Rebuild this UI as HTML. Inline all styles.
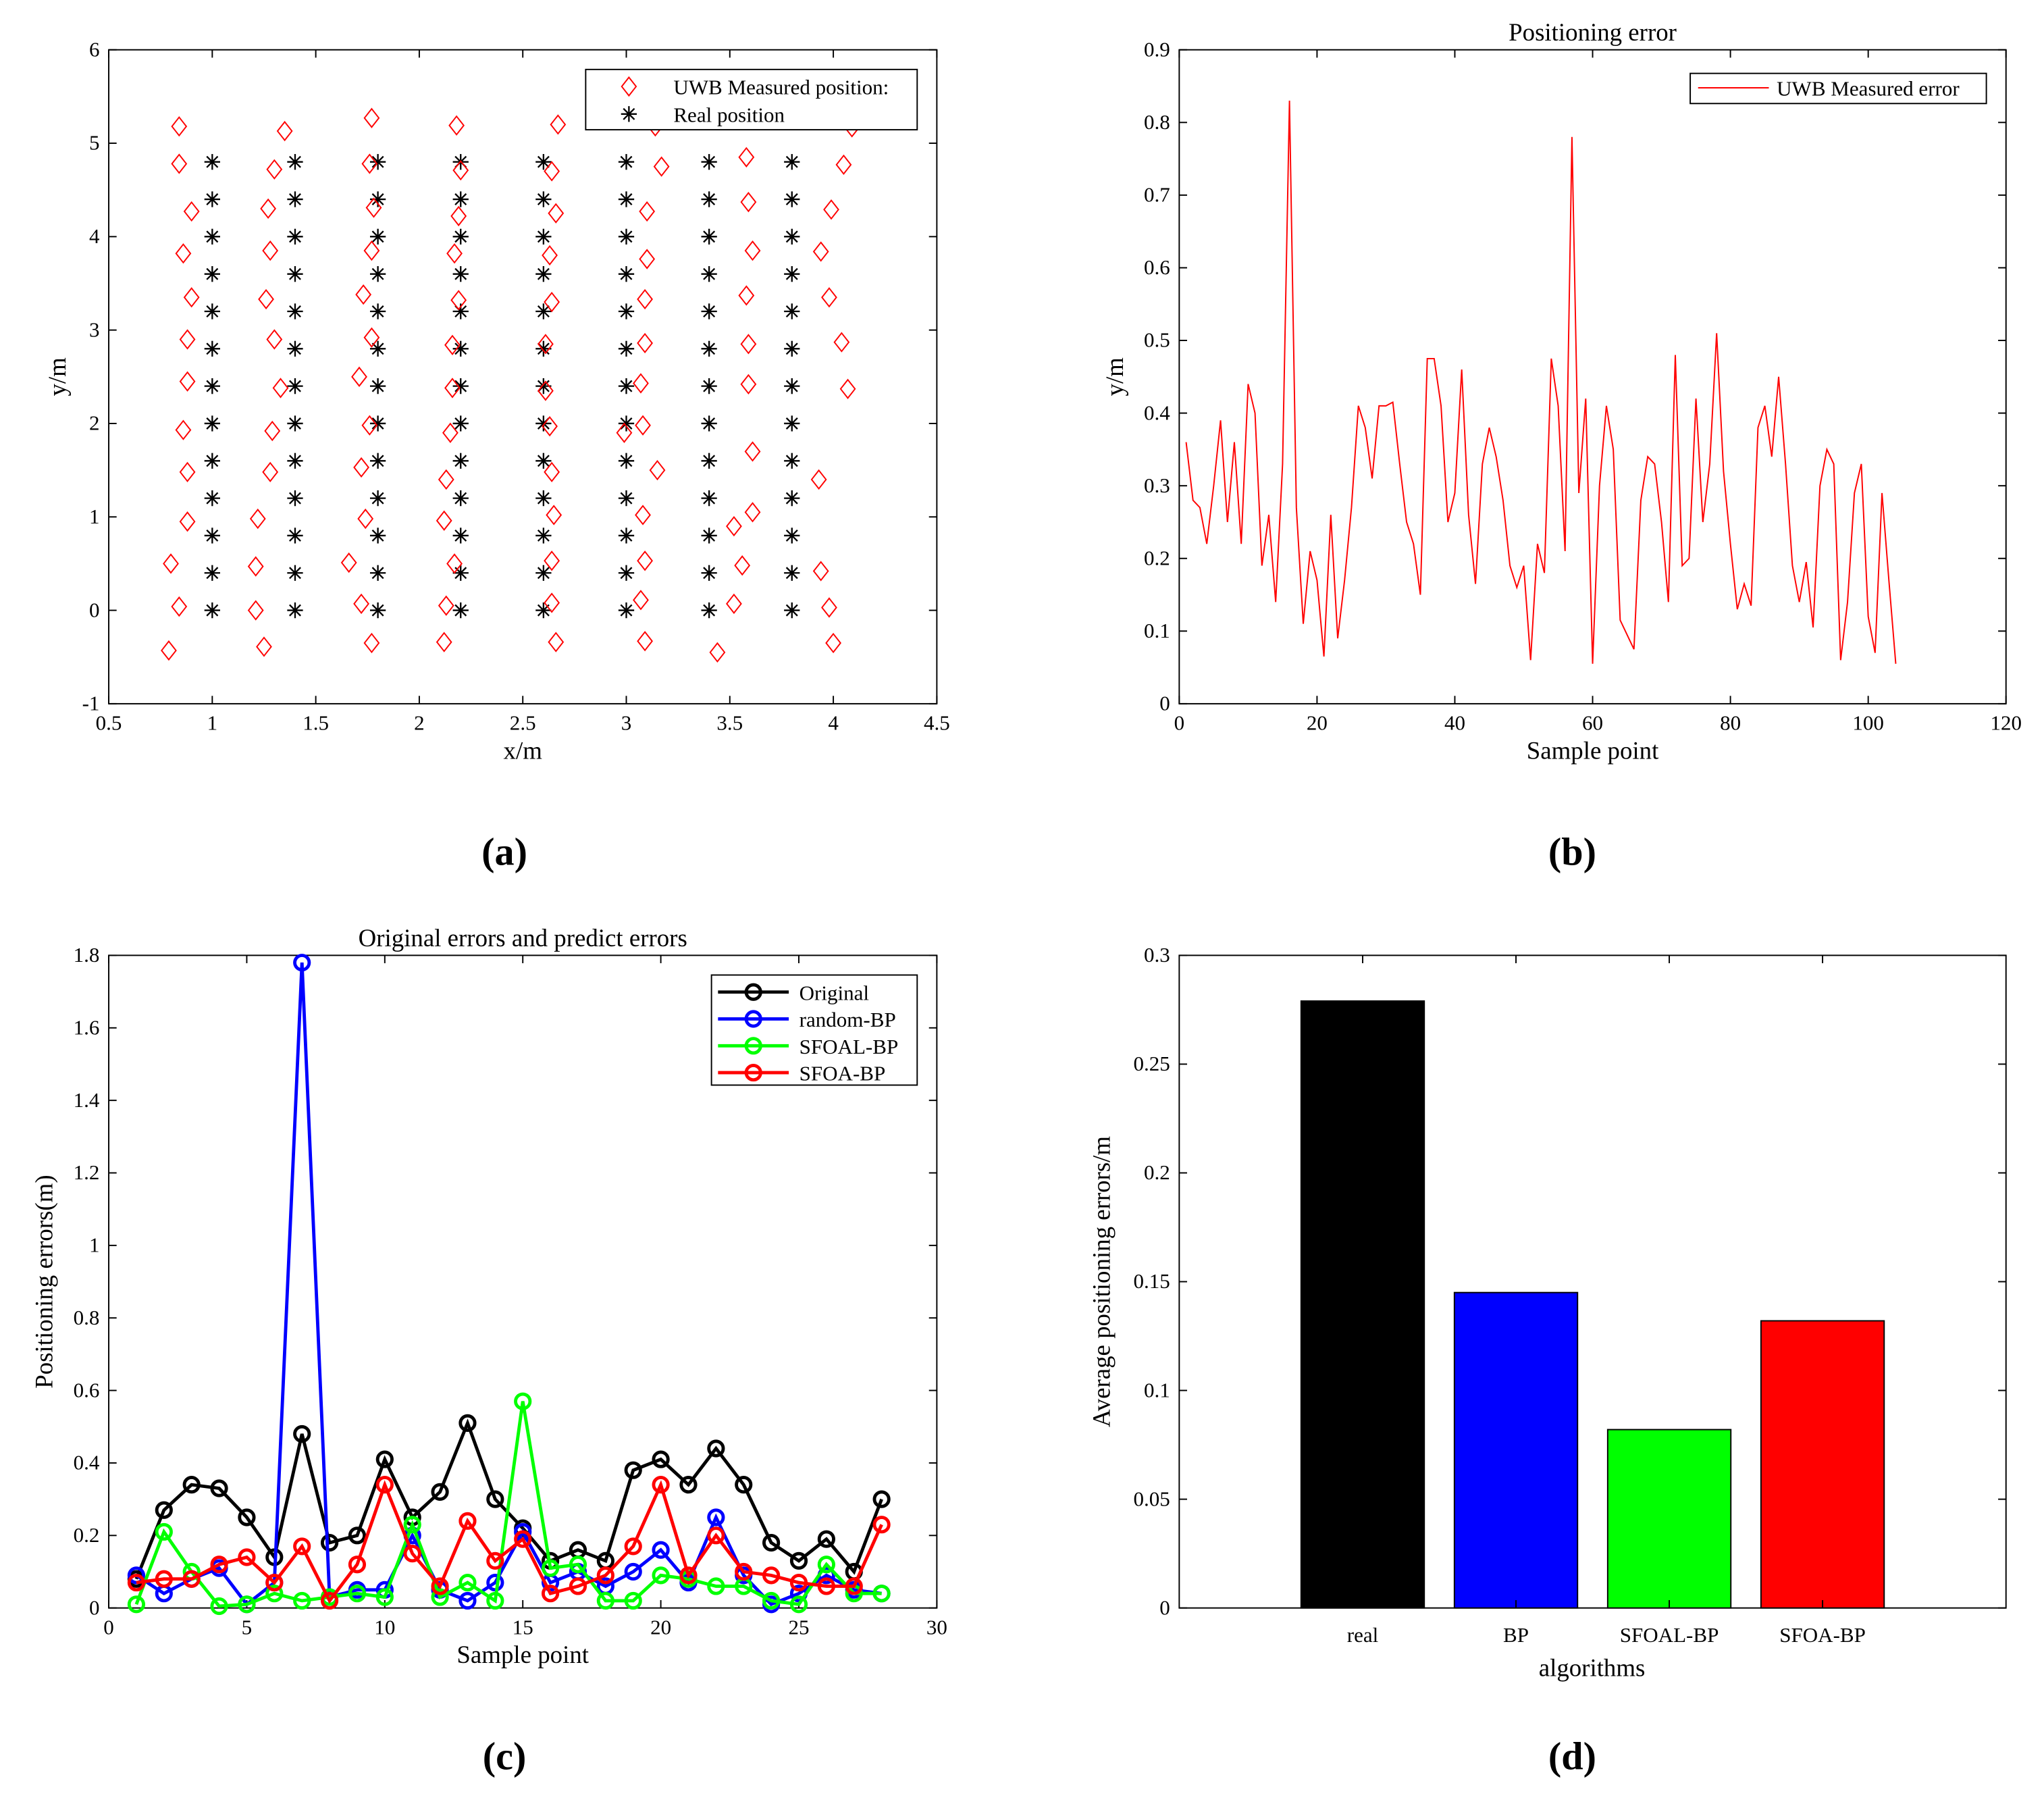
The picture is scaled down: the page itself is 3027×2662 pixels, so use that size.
<!DOCTYPE html>
<html><head><meta charset="utf-8"><style>
html,body{margin:0;padding:0;background:#fff}
svg{display:block}
text{font-family:"Liberation Serif",serif;fill:#000}
</style></head><body>
<svg id="s" width="3027" height="2662" viewBox="0 0 1560 1372" preserveAspectRatio="none" xmlns="http://www.w3.org/2000/svg">
<rect width="1560" height="1372" fill="#fff"/>
</svg>
<script>
// ---- Panel a data ----
const realX=[1,1.4,1.8,2.2,2.6,3,3.4,3.8];
const realY=[0,0.4,0.8,1.2,1.6,2,2.4,2.8,3.2,3.6,4,4.4,4.8];
const measX=[0.84,0.84,0.9,0.86,0.9,0.88,0.88,0.86,0.88,0.88,0.8,0.84,0.79,
1.35,1.3,1.27,1.28,1.26,1.3,1.33,1.29,1.28,1.22,1.21,1.21,1.25,
1.77,1.76,1.78,1.77,1.73,1.77,1.71,1.76,1.72,1.74,1.66,1.72,1.77,
2.18,2.2,2.19,2.17,2.19,2.16,2.16,2.15,2.13,2.12,2.17,2.13,2.12,
2.67,2.64,2.66,2.63,2.64,2.61,2.61,2.63,2.64,2.65,2.64,2.64,2.66,
3.14,3.17,3.1,3.1,3.09,3.09,3.07,3.08,2.99,3.15,3.08,3.09,3.07,3.09,
3.58,3.59,3.61,3.58,3.59,3.59,3.61,3.61,3.52,3.56,3.52,3.44,
4.09,4.05,3.99,3.94,3.98,4.04,4.07,3.93,3.94,3.98,4.0];
const measY=[5.18,4.78,4.27,3.82,3.35,2.9,2.45,1.93,1.48,0.95,0.5,0.04,-0.43,
5.13,4.72,4.3,3.85,3.33,2.9,2.38,1.92,1.48,0.98,0.47,0.0,-0.39,
5.27,4.78,4.31,3.85,3.38,2.92,2.5,1.98,1.53,0.98,0.51,0.07,-0.35,
5.19,4.71,4.22,3.82,3.32,2.84,2.38,1.9,1.4,0.96,0.5,0.05,-0.34,
5.2,4.7,4.25,3.8,3.3,2.85,2.35,1.97,1.48,1.02,0.53,0.08,-0.34,
5.18,4.75,4.27,3.76,3.33,2.86,2.43,1.98,1.9,1.5,1.02,0.53,0.11,-0.33,
4.85,4.37,3.85,3.37,2.85,2.42,1.7,1.05,0.9,0.48,0.07,-0.45,
5.17,4.77,4.29,3.84,3.35,2.87,2.37,1.4,0.42,0.03,-0.35];
const aXTicks=[0.5,1,1.5,2,2.5,3,3.5,4,4.5];
const aYTicks=[-1,0,1,2,3,4,5,6];
// ---- Panel b data ----
const bErr=[0.36,0.28,0.27,0.22,0.3,0.39,0.25,0.36,0.22,0.44,0.4,0.19,0.26,0.14,0.33,0.83,0.27,0.11,0.21,0.17,0.065,0.26,0.09,0.17,0.27,0.41,0.38,0.31,0.41,0.41,0.415,0.33,0.25,0.22,0.15,0.475,0.475,0.41,0.25,0.29,0.46,0.26,0.165,0.33,0.38,0.34,0.28,0.19,0.16,0.19,0.06,0.22,0.18,0.475,0.41,0.21,0.78,0.29,0.42,0.055,0.3,0.41,0.35,0.115,0.095,0.075,0.28,0.34,0.33,0.25,0.14,0.48,0.19,0.2,0.42,0.25,0.33,0.51,0.32,0.22,0.13,0.165,0.135,0.38,0.41,0.34,0.45,0.33,0.19,0.14,0.195,0.105,0.3,0.35,0.33,0.06,0.14,0.29,0.33,0.12,0.07,0.29,0.17,0.055];
const bXTicks=[0,20,40,60,80,100,120];
const bYTicks=[0,0.1,0.2,0.3,0.4,0.5,0.6,0.7,0.8,0.9];
// ---- Panel c data ----
const cOriginal=[0.08,0.27,0.34,0.33,0.25,0.14,0.48,0.18,0.2,0.41,0.25,0.32,0.51,0.3,0.22,0.13,0.16,0.13,0.38,0.41,0.34,0.44,0.34,0.18,0.13,0.19,0.1,0.3];
const cRandom=[0.09,0.04,0.08,0.11,0.01,0.07,1.78,0.03,0.05,0.05,0.2,0.05,0.02,0.07,0.21,0.07,0.1,0.06,0.1,0.16,0.07,0.25,0.09,0.01,0.04,0.09,0.05,0.04];
const cSfoal=[0.01,0.21,0.1,0.005,0.01,0.04,0.02,0.03,0.04,0.03,0.23,0.03,0.07,0.02,0.57,0.11,0.12,0.02,0.02,0.09,0.08,0.06,0.06,0.02,0.01,0.12,0.04,0.04];
const cSfoa=[0.07,0.08,0.08,0.12,0.14,0.07,0.17,0.02,0.12,0.34,0.15,0.06,0.24,0.13,0.19,0.04,0.06,0.09,0.17,0.34,0.09,0.2,0.1,0.09,0.07,0.06,0.06,0.23];
const cXTicks=[0,5,10,15,20,25,30];
const cYTicks=[0,0.2,0.4,0.6,0.8,1,1.2,1.4,1.6,1.8];
// ---- Panel d data ----
const dCats=["real","BP","SFOAL-BP","SFOA-BP"];
const dVals=[0.279,0.145,0.082,0.132];
const dColors=["#000","#00f","#0f0","#f00"];
const dYTicks=[0,0.05,0.1,0.15,0.2,0.25,0.3];

const NS="http://www.w3.org/2000/svg";
const svg=document.getElementById('s');
function el(tag,attrs,parent,txt){const e=document.createElementNS(NS,tag);for(const k in attrs)e.setAttribute(k,attrs[k]);if(txt!==undefined)e.textContent=txt;(parent||svg).appendChild(e);return e;}
function fmt(v){return String(Math.round(v*1000)/1000);}

function axes(name,L,R,T,B,xmin,xmax,ymin,ymax,xt,yt,xlab,ylab,title){
  const g=el('g',{});
  
  
  const X=v=>L+(v-xmin)/(xmax-xmin)*(R-L);
  const Y=v=>B-(v-ymin)/(ymax-ymin)*(B-T);
  const box=el('rect',{x:L,y:T,width:R-L,height:B-T,fill:'#fff',stroke:'#000','stroke-width':1},g);
  
  
  if(xt){xt.forEach(v=>{const x=X(v);
    el('line',{x1:x,y1:B,x2:x,y2:B-6,stroke:'#000'},g);el('line',{x1:x,y1:T,x2:x,y2:T+6,stroke:'#000'},g);
    const t=el('text',{x:x,y:B+20,'text-anchor':'middle','font-size':16},g,fmt(v));
    
    });}
  yt.forEach(v=>{const y=Y(v);
    el('line',{x1:L,y1:y,x2:L+6,y2:y,stroke:'#000'},g);el('line',{x1:R,y1:y,x2:R-6,y2:y,stroke:'#000'},g);
    const t=el('text',{x:L-7,y:y+5,'text-anchor':'end','font-size':16},g,fmt(v));
    
    });
  if(xlab){const t=el('text',{x:(L+R)/2,y:B+42,'text-anchor':'middle','font-size':19},g,xlab);
    
    }
  if(ylab){const cx=ylab.x,cy=(T+B)/2;const t=el('text',{x:cx,y:cy,'text-anchor':'middle','font-size':19,transform:`rotate(-90 ${cx} ${cy})`},g,ylab.t);
    
    }
  if(title){const t=el('text',{x:(L+R)/2,y:T-7,'text-anchor':'middle','font-size':19},g,title);
    
    }
  return {g,X,Y};
}
function diamond(g,x,y,c){return el('path',{d:`M${x} ${y-7}L${x+5.5} ${y}L${x} ${y+7}L${x-5.5} ${y}Z`,fill:'none',stroke:c||'#f00','stroke-width':1},g);}
function star(g,x,y){const p=el('g',{stroke:'#000','stroke-width':1.2},g);const r=6;
  el('line',{x1:x-r,y1:y,x2:x+r,y2:y},p);el('line',{x1:x,y1:y-r,x2:x,y2:y+r},p);
  el('line',{x1:x-4.2,y1:y-4.2,x2:x+4.2,y2:y+4.2},p);el('line',{x1:x-4.2,y1:y+4.2,x2:x+4.2,y2:y-4.2},p);return p;}
function panelLabel(x,y,t){const e=el('text',{x:x,y:y,'text-anchor':'middle','font-size':30,'font-weight':'bold'},svg,t);
  
  }

// Panel a
{const a=axes('panel-a-scatter',83,715,38,537,0.5,4.5,-1,6,aXTicks,aYTicks,'x/m',{x:50,t:'y/m'},null);
 realX.forEach(x=>realY.forEach(y=>{const s=star(a.g,a.X(x),a.Y(y));
   
   }));
 measX.forEach((x,i)=>{const d=diamond(a.g,a.X(x),a.Y(measY[i]));
   
   });
 const lg=el('g',{},a.g);
 
 
 el('rect',{x:447,y:53,width:253,height:46,fill:'#fff',stroke:'#000'},lg);
 diamond(lg,480,66);el('text',{x:514,y:72,'font-size':16},lg,'UWB Measured position:');
 star(lg,480,87);el('text',{x:514,y:93,'font-size':16},lg,'Real position');
 panelLabel(385,660,'(a)');}

// Panel b
{const b=axes('panel-b-line',900,1531,38,537,0,120,0,0.9,bXTicks,bYTicks,'Sample point',{x:857,t:'y/m'},'Positioning error');
 const pts=bErr.map((v,i)=>b.X(i+1)+','+b.Y(v)).join(' ');
 const pl=el('polyline',{points:pts,fill:'none',stroke:'#f00','stroke-width':1},b.g);
 
 
 const lg=el('g',{},b.g);
 
 
 el('rect',{x:1290,y:56,width:226,height:23,fill:'#fff',stroke:'#000'},lg);
 el('line',{x1:1296,y1:67,x2:1350,y2:67,stroke:'#f00'},lg);
 el('text',{x:1356,y:73,'font-size':16},lg,'UWB Measured error');
 panelLabel(1200,660,'(b)');}

// Panel c
{const c=axes('panel-c-lines',83,715,729,1227,0,30,0,1.8,cXTicks,cYTicks,'Sample point',{x:40,t:'Positioning errors(m)'},'Original errors and predict errors');
 const series=[[cOriginal,'#000','original-series'],[cRandom,'#00f','random-bp-series'],[cSfoal,'#0f0','sfoal-bp-series'],[cSfoa,'#f00','sfoa-bp-series']];
 series.forEach(([d,col,nm])=>{const sg=el('g',{},c.g);
   
   
   el('polyline',{points:d.map((v,i)=>c.X(i+1)+','+c.Y(v)).join(' '),fill:'none',stroke:col,'stroke-width':2.5},sg);
   d.forEach((v,i)=>el('circle',{cx:c.X(i+1),cy:c.Y(v),r:5.5,fill:'none',stroke:col,'stroke-width':2.5},sg));});
 const lg=el('g',{},c.g);
 
 
 el('rect',{x:543,y:744,width:157,height:84,fill:'#fff',stroke:'#000'},lg);
 const names=['Original','random-BP','SFOAL-BP','SFOA-BP'];
 names.forEach((n,i)=>{const y=757+i*20.5;
   el('line',{x1:548,y1:y,x2:602,y2:y,stroke:series[i][1],'stroke-width':2.5},lg);
   el('circle',{cx:575,cy:y,r:5.5,fill:'none',stroke:series[i][1],'stroke-width':2.5},lg);
   el('text',{x:610,y:y+6,'font-size':16},lg,n);});
 panelLabel(385,1350,'(c)');}

// Panel d
{const d=axes('panel-d-bars',900,1531,729,1227,0,1,0,0.3,null,dYTicks,null,{x:847,t:'Average positioning errors/m'},null);
 const cx=i=>1040+117*i;
 dVals.forEach((v,i)=>{const r=el('rect',{x:cx(i)-47,y:d.Y(v),width:94,height:1227-d.Y(v),fill:dColors[i],stroke:'#000','stroke-width':1},d.g);
   
   
   el('line',{x1:cx(i),y1:1227,x2:cx(i),y2:1221,stroke:'#000'},d.g);
   el('line',{x1:cx(i),y1:729,x2:cx(i),y2:735,stroke:'#000'},d.g);
   const t=el('text',{x:cx(i),y:1253,'text-anchor':'middle','font-size':16},d.g,dCats[i]);
   
   });
 const xt=el('text',{x:1215,y:1279,'text-anchor':'middle','font-size':19},d.g,'algorithms');
 
 
 panelLabel(1200,1350,'(d)');}
</script>
</body></html>
